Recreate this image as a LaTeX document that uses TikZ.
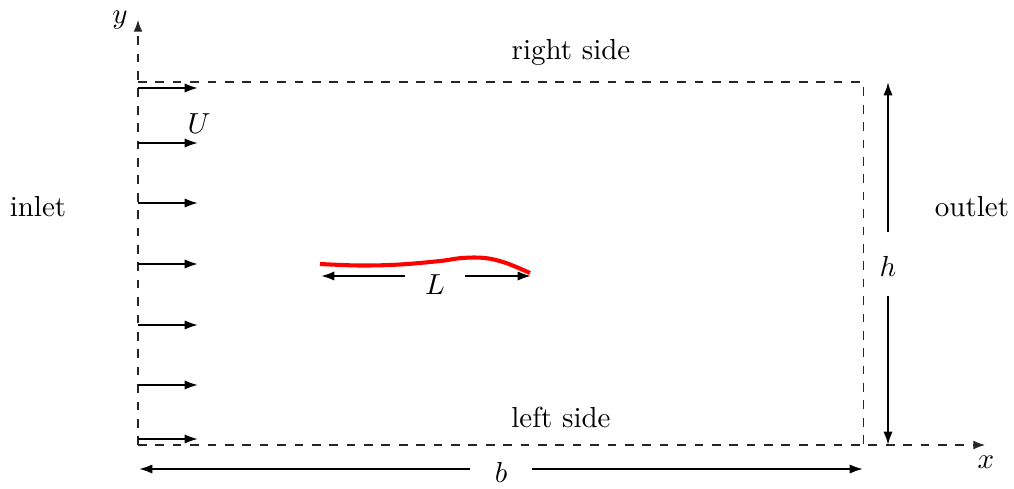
\documentclass[tikz,border=0pt]{standalone}
\usetikzlibrary{arrows.meta}
\begin{document}
\begin{tikzpicture}[x=0.345pt,y=-0.345pt,
  dimarrow/.style={line width=0.7pt,-{Latex[length=4.6pt,width=3.2pt]}},
  axisline/.style={dashed,line width=0.35pt,black!85,-{Latex[length=4pt,width=3pt]}},
  boxline/.style={dashed,line width=0.35pt,black!85},
  lbl/.style={inner sep=0pt}]
\useasboundingbox (0,0) rectangle (1014,488);
% axes
\coordinate (O) at (138,445);
\coordinate (ytip) at (138,20);
\coordinate (xtip) at (985,445);
\draw[axisline] (O) -- (ytip);
\draw[axisline] (O) -- (xtip);
\node[lbl] (ylab) at (120,20) {$y$};
\node[lbl] (xlab) at (986,462) {$x$};
% domain box
\coordinate (TL) at (138,82);
\coordinate (TR) at (863,82);
\coordinate (BR) at (863,445);
\draw[boxline] (TL) -- (TR) -- (BR);
% inlet arrows
\foreach \yy [count=\i] in {88,143,203,264,325,385,439}{
  \coordinate (ia\i) at (138,\yy);
  \coordinate (ib\i) at (198,\yy);
  \draw[dimarrow] (ia\i) -- (ib\i);
}
\node[lbl] (U) at (199,124) {$U$};
% labels
\node[lbl] (right) at (571,52) {right side};
\node[lbl] (left) at (561,417) {left side};
\node[lbl] (inlet) at (38,207) {inlet};
\node[lbl] (outlet) at (972,207) {outlet};
% red filament
\draw[red,line width=1.4pt] plot[smooth,tension=0.6] coordinates
  {(320,264) (360,265.5) (400,264.5) (440,261) (462,258) (485,258) (506,263) (530,273)};
% L dimension
\node[lbl] (L) at (435,285) {$L$};
\coordinate (La) at (405,276);
\coordinate (Lb) at (321,276);
\coordinate (Lc) at (465,276);
\coordinate (Ld) at (531,276);
\draw[dimarrow] (La) -- (Lb);
\draw[dimarrow] (Lc) -- (Ld);
% h dimension
\node[lbl] (h) at (888,266) {$h$};
\coordinate (ha) at (888,232);
\coordinate (hb) at (888,82);
\coordinate (hc) at (888,296);
\coordinate (hd) at (888,445);
\draw[dimarrow] (ha) -- (hb);
\draw[dimarrow] (hc) -- (hd);
% b dimension
\node[lbl] (b) at (501,472) {$b$};
\coordinate (ba) at (470,469);
\coordinate (bb) at (139,469);
\coordinate (bc) at (532,469);
\coordinate (bd) at (863,469);
\draw[dimarrow] (ba) -- (bb);
\draw[dimarrow] (bc) -- (bd);
\end{tikzpicture}
\end{document}
